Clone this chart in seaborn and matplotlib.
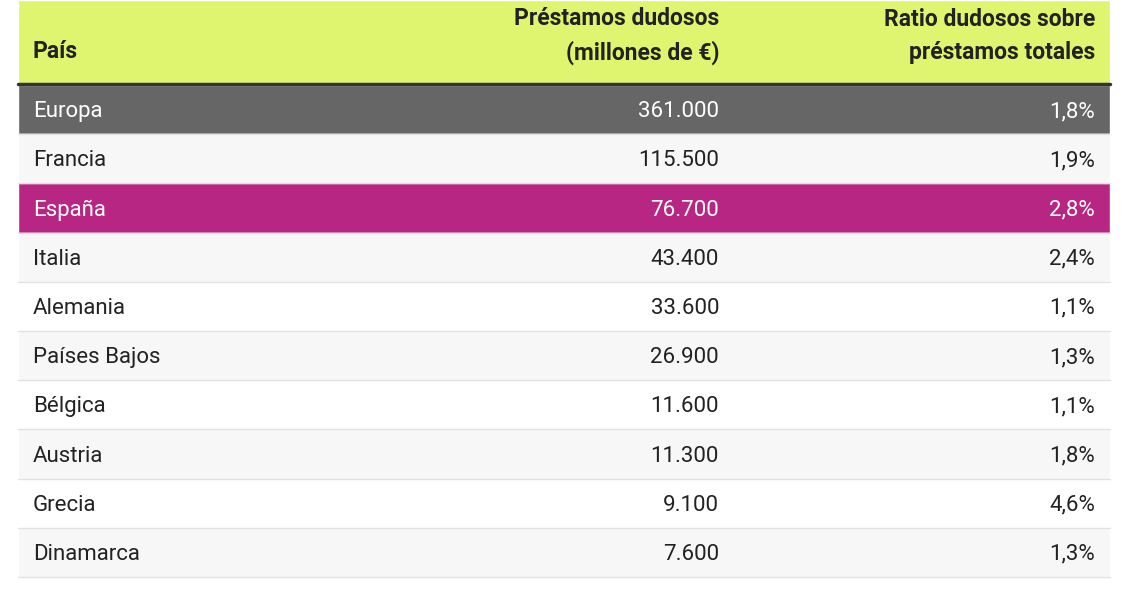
import matplotlib
matplotlib.use("Agg")
import matplotlib.pyplot as plt
import seaborn as sns

sns.set_theme(style="white", font="Roboto")

paises = ["Europa", "Francia", "España", "Italia", "Alemania", "Países Bajos",
          "Bélgica", "Austria", "Grecia", "Dinamarca"]
dudosos = ["361.000", "115.500", "76.700", "43.400", "33.600", "26.900",
           "11.600", "11.300", "9.100", "7.600"]
ratio = ["1,8%", "1,9%", "2,8%", "2,4%", "1,1%", "1,3%", "1,1%", "1,8%", "4,6%", "1,3%"]
headers = ["País", "Préstamos dudosos\n(millones de €)", "Ratio dudosos sobre\npréstamos totales"]

fig = plt.figure(figsize=(11.28, 5.91), dpi=100)
ax = fig.add_axes([0, 0, 1, 1])
ax.set_xlim(0, 1128)
ax.set_ylim(591, 0)
ax.axis("off")

left, right = 18, 1110
header_h = 84
row_h = 49.2

# header
ax.barh(header_h / 2, right - left, height=header_h, left=left, color="#dff570", zorder=1)
ax.plot([left, right], [header_h, header_h], color="#333333", lw=2.5, zorder=3)
ax.text(33, 52, headers[0], fontsize=16.5, fontweight="bold", color="#222222", va="center")
ax.text(719, 36, headers[1], fontsize=16.5, fontweight="bold", color="#222222",
        va="center", ha="right", linespacing=1.55)
ax.text(1095, 36, headers[2], fontsize=16.5, fontweight="bold", color="#222222",
        va="center", ha="right", linespacing=1.55)

for i, (p, d, r) in enumerate(zip(paises, dudosos, ratio)):
    yc = header_h + 1 + row_h * i + row_h / 2
    if p == "Europa":
        bg, fg = "#666666", "white"
    elif p == "España":
        bg, fg = "#b72683", "white"
    else:
        bg, fg = ("#f7f7f7" if i % 2 == 1 else "white"), "#222222"
    ax.barh(yc, right - left, height=row_h, left=left, color=bg, zorder=1)
    ax.plot([left, right], [yc + row_h / 2, yc + row_h / 2], color="#e2e2e2", lw=1, zorder=2)
    ax.text(33, yc + 2, p, fontsize=16, color=fg, va="center", zorder=4)
    ax.text(719, yc + 2, d, fontsize=16, color=fg, va="center", ha="right", zorder=4)
    ax.text(1095, yc + 2, r, fontsize=16, color=fg, va="center", ha="right", zorder=4)

fig.savefig("out.png", dpi=100, facecolor="white")
